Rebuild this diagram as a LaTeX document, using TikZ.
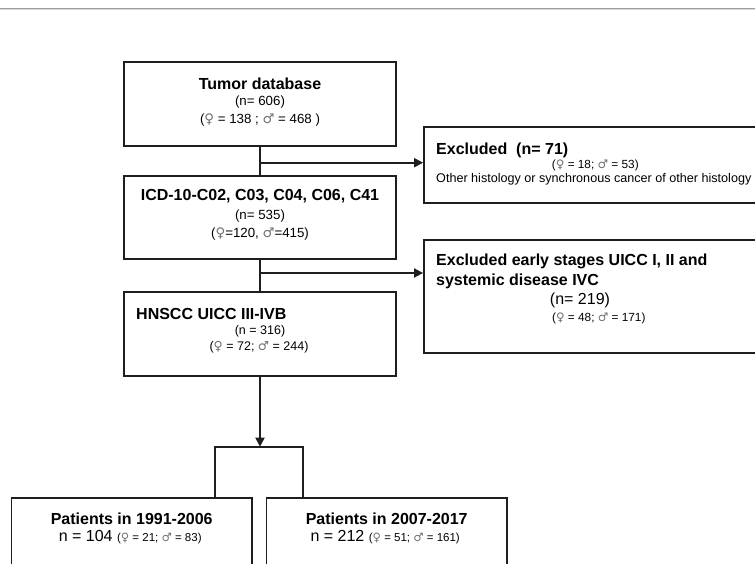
\documentclass[tikz,border=0pt]{standalone}
\usepackage{fontspec}
\setmainfont{Liberation Sans}
\newfontfamily\gsym{DejaVu Sans}
\usetikzlibrary{arrows.meta}
\definecolor{linegray}{HTML}{1E1E1E}
\definecolor{symgray}{HTML}{707070}
\newcommand{\fem}{{\gsym\color{symgray}♀}}
\newcommand{\mal}{{\gsym\color{symgray}♂}}
\tikzset{
    box/.style={draw=linegray, line width=1.8pt, rectangle, inner sep=0pt},
    link/.style={draw=linegray, line width=1.8pt},
    arr/.style={link, -{Triangle[length=9pt,width=9pt]}},
    ttl/.style={inner sep=0pt, font=\fontsize{16}{18}\selectfont\bfseries},
    num/.style={inner sep=0pt, font=\fontsize{13.3}{15}\selectfont},
    big/.style={inner sep=0pt, font=\fontsize{16}{19}\selectfont},
    small/.style={inner sep=0pt, font=\fontsize{11.8}{14}\selectfont},
}
\begin{document}
\begin{tikzpicture}[x=1pt, y=-1pt]
        \clip (0,0) rectangle (755,564);
        \fill[white] (0,0) rectangle (755,564);
        % top rule
        \draw[color=black!38, line width=1pt] (0,8.3) -- (755,8.3);
        \draw[color=black!15, line width=1pt] (0,9.6) -- (755,9.6);

        % Tumor database
        \node[box, minimum width=272, minimum height=84] (tumor) at (260,104) {};
        \node[ttl] (tumor-t) at (260,84) {Tumor database};
        \node[num] (tumor-n) at (260,102.3) {(n= 606)};
        \node[num] (tumor-g) at (260,119.7) {(\fem{} = 138 ; \mal{} = 468 )};

        % ICD-10
        \node[box, minimum width=272, minimum height=83] (icd) at (260,217.5) {};
        \node[ttl] (icd-t) at (260,196.3) {ICD-10-C02, C03, C04, C06, C41};
        \node[num] (icd-n) at (260,215.7) {(n= 535)};
        \node[num] (icd-g) at (260,233.7) {(\fem=120, \mal=415)};

        % HNSCC
        \node[box, minimum width=272, minimum height=84] (hnscc) at (260,334) {};
        \node[ttl, anchor=west] (hnscc-t) at (136,314) {HNSCC UICC III-IVB};
        \node[font=\fontsize{12.5}{14}\selectfont, inner sep=0pt] (hnscc-n) at (260,331.3) {(n = 316)};
        \node[font=\fontsize{12.5}{14}\selectfont, inner sep=0pt] (hnscc-g) at (259,347.3) {(\fem{} = 72; \mal{} = 244)};

        % Excluded 1
        \node[box, minimum width=366, minimum height=76] (excl1) at (607,165.3) {};
        \node[ttl, anchor=west] (excl1-t) at (436,150) {Excluded\ \ (n= 71)};
        \node[small] (excl1-g) at (595.3,165.5) {(\fem{} = 18; \mal{} = 53)};
        \node[font=\fontsize{12.6}{14}\selectfont, inner sep=0pt, anchor=west] (excl1-o) at (436,179)
            {Other histology or synchronous cancer of other histology};

        % Excluded 2
        \node[box, minimum width=366, minimum height=113.3] (excl2) at (607,296.7) {};
        \node[ttl, anchor=west] (excl2-t1) at (436,261.7) {Excluded early stages UICC I, II and};
        \node[ttl, anchor=west] (excl2-t2) at (436,281) {systemic disease IVC};
        \node[big] (excl2-n) at (580,300.7) {(n= 219)};
        \node[small] (excl2-g) at (598.8,318) {(\fem{} = 48; \mal{} = 171)};

        % Periods
        \foreach \i/\x/\yrs/\n/\f/\m in {1/131.7/1991-2006/104/21/83, 2/386.7/2007-2017/212/51/161} {
            \node[box, minimum width=240.5, minimum height=120, anchor=north] (p\i) at (\x,497.3) {};
            \node[ttl] (p\i-t) at (\x,519) {Patients in \yrs};
            \node[big] (p\i-n) at (\x-1.5,537) {n = \n\ {\fontsize{11.5}{13}\selectfont(\fem{} = \f; \mal{} = \m)}};
        }

        % connectors
        \draw[link] (tumor.south) -- (icd.north);
        \coordinate (j1) at (260,162.7);
        \draw[arr] (j1) -- (j1 -| excl1.west);
        \draw[link] (icd.south) -- (hnscc.north);
        \coordinate (j2) at (260,273);
        \draw[arr] (j2) -- (j2 -| excl2.west);
        \coordinate (split) at (260,446.7);
        \draw[arr] (hnscc.south) -- (split);
        \coordinate (legl) at (215,446.7);
        \coordinate (legr) at (302.7,446.7);
        \draw[link] (legl |- p1.north) -- (legl) -- (legr) -- (legr |- p2.north);
\end{tikzpicture}
\end{document}
